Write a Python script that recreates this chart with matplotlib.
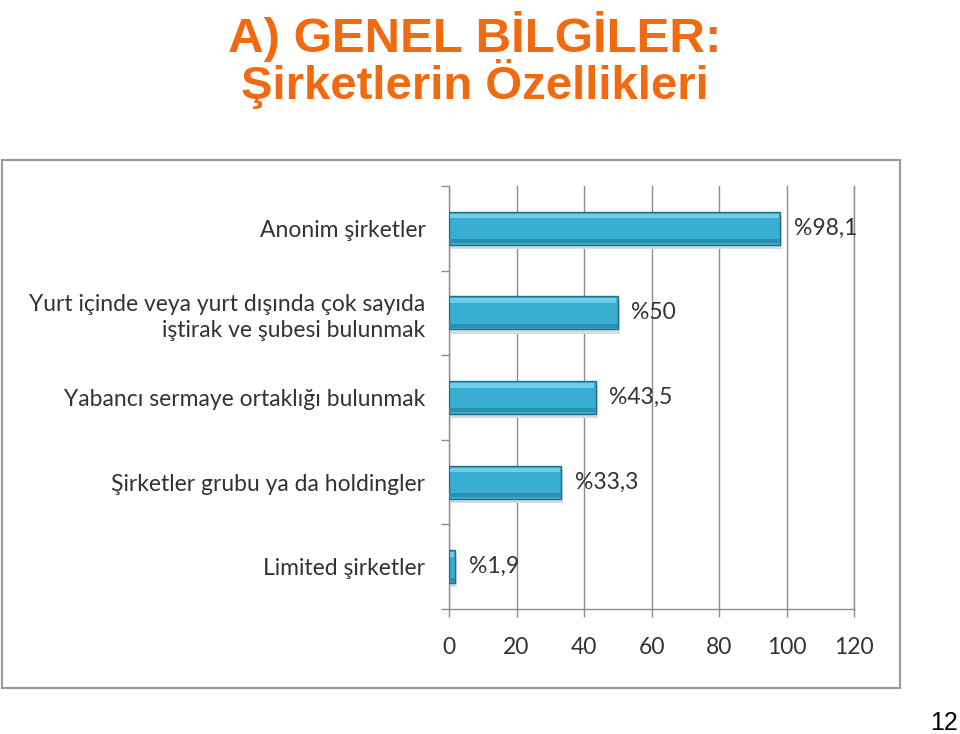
import matplotlib
matplotlib.use("Agg")
import matplotlib.pyplot as plt
from matplotlib.patches import Rectangle
import numpy as np

categories = [
    "Anonim şirketler",
    "Yurt içinde veya yurt dışında çok sayıda\niştirak ve şubesi bulunmak",
    "Yabancı sermaye ortaklığı bulunmak",
    "Şirketler grubu ya da holdingler",
    "Limited şirketler",
]
values = [98.1, 50, 43.5, 33.3, 1.9]
value_labels = ["%98,1", "%50", "%43,5", "%33,3", "%1,9"]
xticks = [0, 20, 40, 60, 80, 100, 120]

fig = plt.figure(figsize=(9.6, 7.34), dpi=100)
fig.patch.set_facecolor("white")

# Title
fig.text(475 / 960, 1 - 52 / 734, "A) GENEL BİLGİLER:", ha="center", va="baseline",
         fontsize=35.5, fontweight="bold", color="#F26A10", family="Liberation Sans")
fig.text(475 / 960, 1 - 99 / 734, "Şirketlerin Özellikleri", ha="center", va="baseline",
         fontsize=34, fontweight="bold", color="#F26A10", family="Liberation Sans")

# Chart border
fig.patches.append(Rectangle((2 / 960, 1 - 688 / 734), 898 / 960, 528 / 734,
                             transform=fig.transFigure, fill=False,
                             edgecolor="#9A9A9A", linewidth=1.5))

ax = fig.add_axes([449 / 960, 1 - 609 / 734, 405 / 960, 423 / 734])
y = np.arange(len(categories))
h = 0.39
grid_c = "#8C8C8C"
txt_c = "#333333"
fs = 16.5

# shadow
ax.barh(y + 0.05, values, height=h, left=0.6, color="#DADADA", zorder=2)
# base bar
ax.barh(y, values, height=h, color="#38AED3", edgecolor="#226F8C", linewidth=1.0, zorder=3)
# highlight (top bevel)
ax.barh(y - h * 0.37, [v - 0.8 if v > 2 else v * 0.6 for v in values], left=0.4,
        height=h * 0.14, color="#6FCDE8", linewidth=0, zorder=4)
# lower darker band
ax.barh(y + h * 0.39, values, height=h * 0.12, color="#2B8FB2", linewidth=0, zorder=4)

for yi, v, lab in zip(y, values, value_labels):
    ax.text(v + 4, yi, lab, ha="left", va="center", fontsize=fs,
            color=txt_c, family="Lato", zorder=5)

ax.set_xlim(0, 120)
ax.set_ylim(len(categories) - 0.5, -0.5)
ax.set_xticks(xticks)
ax.set_xticklabels([str(t) for t in xticks], fontsize=fs, color=txt_c, family="Lato")
ax.set_yticks(y)
ax.set_yticklabels(categories, fontsize=fs, color=txt_c, family="Lato",
                   linespacing=1.3)
ax.tick_params(axis="y", which="major", length=0, pad=17)
ax.set_yticks(np.arange(-0.5, len(categories), 1.0), minor=True)
ax.tick_params(axis="y", which="minor", length=6, color=grid_c, width=1)
ax.tick_params(axis="x", length=6, color=grid_c, width=1, pad=14)

ax.grid(axis="x", color=grid_c, linewidth=1, zorder=0)
ax.set_axisbelow(True)
ax.spines["top"].set_visible(False)
for s in ["left", "bottom", "right"]:
    ax.spines[s].set_color(grid_c)
    ax.spines[s].set_linewidth(1)

fig.text(958 / 960, 1 - 723 / 734, "12", ha="right", va="center", fontsize=18,
         color="black", family="Liberation Sans")

fig.savefig("out.png", dpi=100)
